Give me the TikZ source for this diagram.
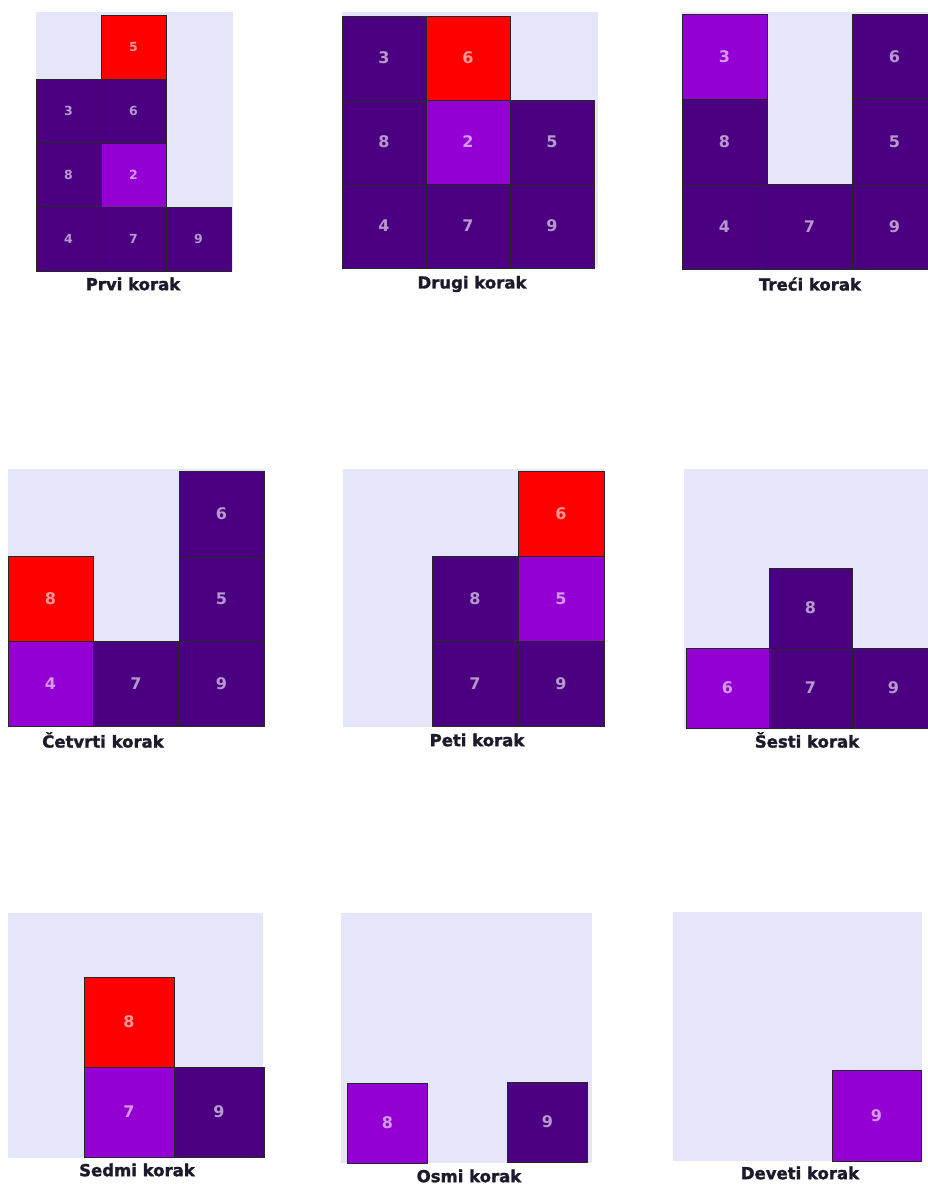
\documentclass[tikz,border=0pt]{standalone}
\usepackage{fontspec}
\setmainfont{DejaVu Sans}
\newfontfamily\korakfont{DejaVu Sans}[BoldFeatures={FakeBold=1.6}]
\usepackage{xcolor}
\usepackage{tikz}
\definecolor{pozadina}{HTML}{E6E6FA}
\definecolor{indigo}{HTML}{4B0082}
\definecolor{ljubicasta}{HTML}{9400D3}
\definecolor{crvena}{HTML}{FF0000}
\definecolor{natpis}{HTML}{1E1A2C}

\begin{document}
\begin{tikzpicture}[x=1pt, y=-1pt,
  velicina/.style={},
  polje/.style={draw=black!85, line width=0.9pt, inner sep=0pt, text=white, text opacity=0.6, font=\bfseries\fontsize{16}{16}\selectfont, velicina},
  tamno/.style={polje, fill=indigo},
  svijetlo/.style={polje, fill=ljubicasta},
  aktivno/.style={polje, fill=crvena},
  korak/.style={font=\korakfont\bfseries\fontsize{16.5}{16.5}\selectfont, text=natpis, inner sep=0pt}]
\useasboundingbox (0,0) rectangle (928,1184);
\fill[white] (0,0) rectangle (928,1184);

\begin{scope}[velicina/.style={minimum width=65pt, minimum height=64pt, font=\bfseries\fontsize{12.5}{12.5}\selectfont}]
\fill[pozadina] (36,12) rectangle (233,271);
\node[aktivno] (a5) at (133.5,47) {5};
\node[tamno] (a3) at (68.5,111) {3};
\node[tamno] (a6) at (133.5,111) {6};
\node[tamno] (a8) at (68.5,175) {8};
\node[svijetlo] (a2) at (133.5,175) {2};
\node[tamno] (a4) at (68.5,239) {4};
\node[tamno] (a7) at (133.5,239) {7};
\node[tamno] (a9) at (198.5,239) {9};
\end{scope}
\node[korak] (na) at (133,284) {Prvi korak};

\begin{scope}[velicina/.style={minimum width=84pt, minimum height=84pt}]
\fill[pozadina] (342,12) rectangle (598,268);
\node[tamno] (b3) at (384,58) {3};
\node[aktivno] (b6) at (468,58) {6};
\node[tamno] (b8) at (384,142) {8};
\node[svijetlo] (b2) at (468,142) {2};
\node[tamno] (b5) at (552,142) {5};
\node[tamno] (b4) at (384,226) {4};
\node[tamno] (b7) at (468,226) {7};
\node[tamno] (b9) at (552,226) {9};
\end{scope}
\node[korak] (nb) at (472,284) {Drugi korak};

\begin{scope}[velicina/.style={minimum width=85pt, minimum height=85pt}]
\fill[pozadina] (682,12) rectangle (940,269);
\node[svijetlo] (c3) at (724.5,56.5) {3};
\node[tamno] (c6) at (894.5,56.5) {6};
\node[tamno] (c8) at (724.5,141.5) {8};
\node[tamno] (c5) at (894.5,141.5) {5};
\node[tamno] (c4) at (724.5,226.5) {4};
\node[tamno] (c7) at (809.5,226.5) {7};
\node[tamno] (c9) at (894.5,226.5) {9};
\end{scope}
\node[korak] (nc) at (810,284) {Treći korak};

\begin{scope}[velicina/.style={minimum width=85pt, minimum height=85pt}]
\fill[pozadina] (8,469) rectangle (265,727);
\node[tamno] (d6) at (221.5,513.5) {6};
\node[aktivno] (d8) at (50.5,598.5) {8};
\node[tamno] (d5) at (221.5,598.5) {5};
\node[svijetlo] (d4) at (50.5,683.5) {4};
\node[tamno] (d7) at (136,683.5) {7};
\node[tamno] (d9) at (221.5,683.5) {9};
\end{scope}
\node[korak] (nd) at (103,740) {Četvrti korak};

\begin{scope}[velicina/.style={minimum width=86pt, minimum height=85pt}]
\fill[pozadina] (343,469) rectangle (604,727);
\node[aktivno] (e6) at (561,513.5) {6};
\node[tamno] (e8) at (475,598.5) {8};
\node[svijetlo] (e5) at (561,598.5) {5};
\node[tamno] (e7) at (475,683.5) {7};
\node[tamno] (e9) at (561,683.5) {9};
\end{scope}
\node[korak] (ne) at (477,740) {Peti korak};

\begin{scope}[velicina/.style={minimum width=83pt, minimum height=80pt}]
\fill[pozadina] (684,469) rectangle (940,728);
\node[tamno] (f8) at (810.5,608) {8};
\node[svijetlo] (f6) at (727.5,688) {6};
\node[tamno] (f7) at (810.5,688) {7};
\node[tamno] (f9) at (893.5,688) {9};
\end{scope}
\node[korak] (nf) at (807,740) {Šesti korak};

\begin{scope}[velicina/.style={minimum width=90pt, minimum height=90pt}]
\fill[pozadina] (8,913) rectangle (263,1158);
\node[aktivno] (g8) at (129,1022) {8};
\node[svijetlo] (g7) at (129,1112) {7};
\node[tamno] (g9) at (219,1112) {9};
\end{scope}
\node[korak] (ng) at (137,1170) {Sedmi korak};

\begin{scope}[velicina/.style={minimum width=80pt, minimum height=80pt}]
\fill[pozadina] (341,913) rectangle (592,1163);
\node[svijetlo] (h8) at (387.5,1123) {8};
\node[tamno] (h9) at (547.5,1122) {9};
\end{scope}
\node[korak] (nh) at (469,1176) {Osmi korak};

\begin{scope}[velicina/.style={minimum width=89pt, minimum height=91pt}]
\fill[pozadina] (673,912) rectangle (922,1161);
\node[svijetlo] (i9) at (876.5,1115.5) {9};
\end{scope}
\node[korak] (ni) at (800,1173) {Deveti korak};
\end{tikzpicture}
\end{document}
